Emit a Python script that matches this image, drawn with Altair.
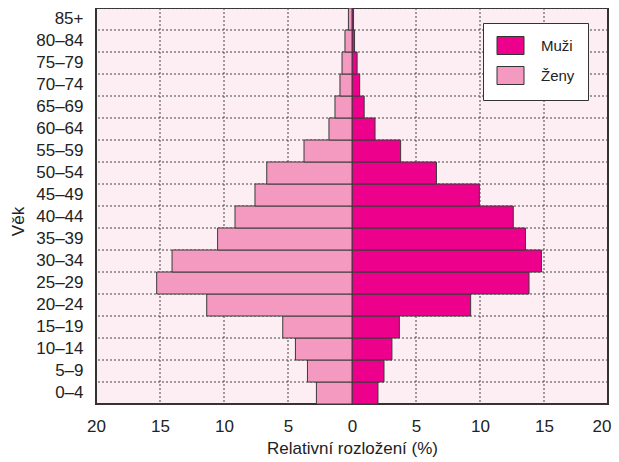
import altair as alt
import pandas as pd

ages = ["0–4", "5–9", "10–14", "15–19", "20–24", "25–29", "30–34", "35–39", "40–44",
        "45–49", "50–54", "55–59", "60–64", "65–69", "70–74", "75–79", "80–84", "85+"]
men = [2.03, 2.5, 3.12, 3.7, 9.27, 13.83, 14.8, 13.55, 12.6,
       9.95, 6.6, 3.8, 1.8, 0.95, 0.6, 0.4, 0.2, 0.12]
women = [2.78, 3.48, 4.42, 5.41, 11.35, 15.26, 14.06, 10.5, 9.14,
         7.58, 6.66, 3.75, 1.8, 1.33, 0.94, 0.78, 0.55, 0.28]
series = ["Muži", "Ženy"]
colors = ["#EC008C", "#F49AC1"]
x_ticks = [-20, -15, -10, -5, 0, 5, 10, 15, 20]
grid_ticks = [-15, -10, -5, 5, 10, 15]

rows = []
for a, m, w in zip(ages, men, women):
    rows.append({"age": a, "value": m, "sex": series[0]})
    rows.append({"age": a, "value": -w, "sex": series[1]})
df = pd.DataFrame(rows)
grid_df = pd.DataFrame({"age": ages})
vgrid_df = pd.DataFrame({"value": grid_ticks})

order = ages[::-1]
FONT = "Liberation Sans"

yscale = alt.Scale(domain=order, paddingInner=0, paddingOuter=0)
xscale = alt.Scale(domain=[-20, 20], nice=False, zero=False)
xaxis = alt.Axis(values=x_ticks, labelExpr="abs(datum.value)",
                 title="Relativní rozložení (%)", grid=False, labelFlush=False,
                 labelOverlap=False,
                 labelAlign={"condition": {"test": "datum.value == 20", "value": "right"},
                             "value": "center"},
                 labelOffset={"condition": {"test": "datum.value == 20", "value": 3},
                              "value": 0},
                 ticks=False, domain=False, labelPadding=14, titlePadding=6)
yaxis = alt.Axis(title="Věk", ticks=False, domain=False, grid=False,
                 labelPadding=13, titleX=-73, titleY=213,
                 titleAngle=270, titleAlign="center", titleBaseline="alphabetic")

hgrid = alt.Chart(grid_df).mark_rule(
    color="#444", strokeDash=[2, 2], strokeWidth=1
).encode(
    y=alt.Y("age:N", scale=yscale, bandPosition=0, axis=yaxis)
)

vgrid = alt.Chart(vgrid_df).mark_rule(
    color="#444", strokeDash=[2, 2], strokeWidth=1
).encode(
    x=alt.X("value:Q", scale=xscale, axis=xaxis)
)

bars = alt.Chart(df).mark_bar(stroke="#3a3a3a", strokeWidth=1).encode(
    x=alt.X("value:Q", scale=xscale, axis=xaxis),
    y=alt.Y("age:N", scale=yscale, axis=yaxis),
    color=alt.Color("sex:N",
                    scale=alt.Scale(domain=series, range=colors),
                    legend=alt.Legend(title=None, orient="none",
                                      legendX=387, legendY=15)),
)

chart = alt.layer(vgrid, hgrid, bars).properties(
    width=512, height=396,
    autosize=alt.AutoSizeParams(type="none"),
    padding={"left": 88, "top": 0, "right": 3, "bottom": 54},
).configure_view(
    fill="#FDEEF4", stroke="#333333", strokeWidth=2
).configure_axis(
    labelFont=FONT, titleFont=FONT, labelFontSize=17, titleFontSize=17,
    labelColor="#222222", titleColor="#222222", titleFontWeight="normal"
).configure_legend(
    labelFont=FONT, labelFontSize=15, labelColor="#222222",
    strokeColor="#333333", fillColor="#ffffff", padding=13,
    symbolType="M-1.5,-1H1.5V1H-1.5Z", symbolSize=324,
    symbolStrokeColor="#333333", symbolStrokeWidth=1, symbolOpacity=1,
    symbolOffset=5, labelOffset=21, rowPadding=7, cornerRadius=0
)

chart.save("out.html", embed_options={"renderer": "svg", "actions": False})
